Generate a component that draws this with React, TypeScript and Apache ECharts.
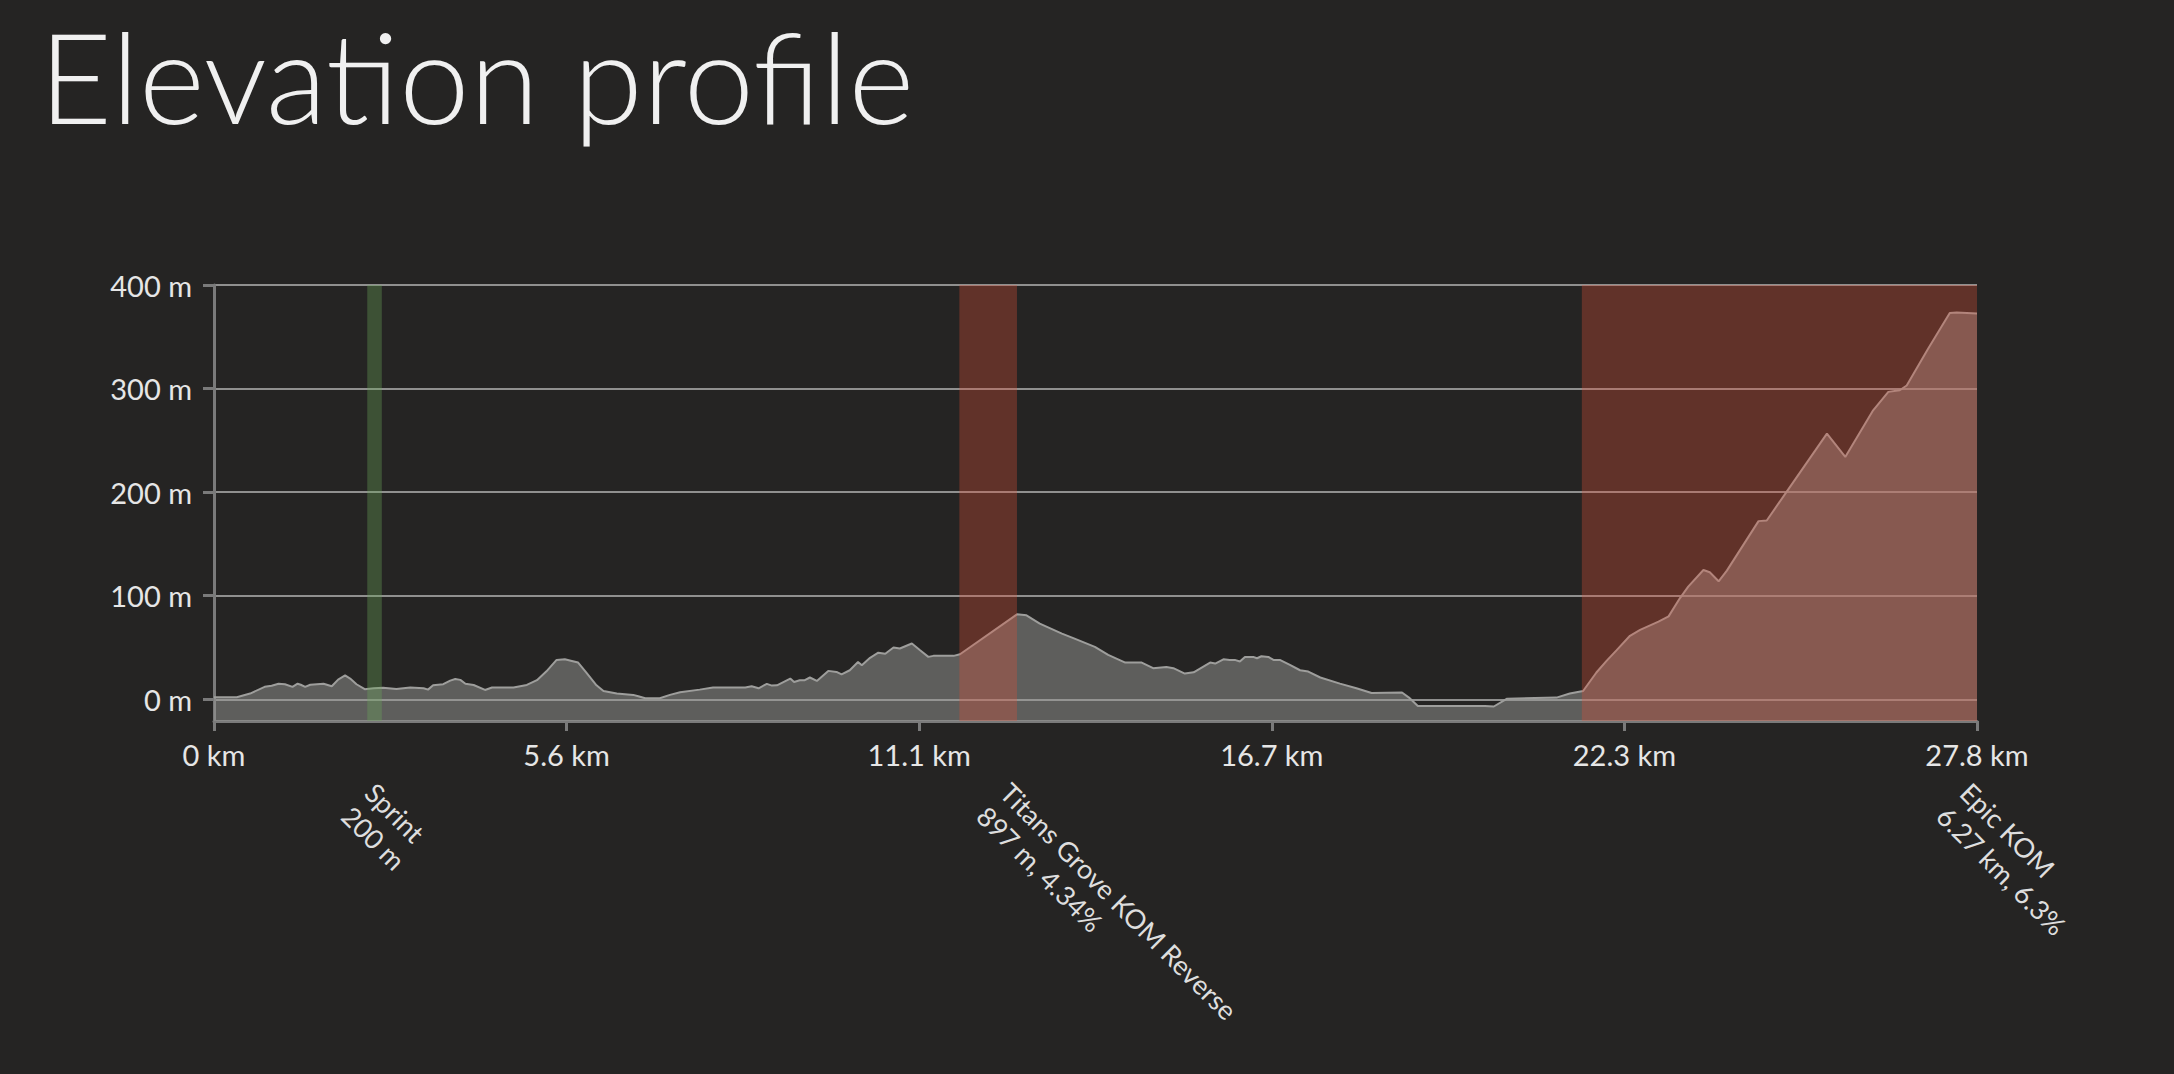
import React, { useEffect, useRef } from "react";
import * as echarts from "echarts";

// ---- data ----
const distanceKm = [
  0.0, 0.36, 0.57, 0.8, 0.91, 1.02, 1.12, 1.24, 1.32, 1.37, 1.44, 1.52, 1.73, 1.86, 1.96, 2.07, 2.15, 2.25,
  2.38, 2.52, 2.67, 2.88, 3.1, 3.31, 3.38, 3.46, 3.62, 3.73, 3.81, 3.89, 3.97, 4.1, 4.28, 4.39, 4.73, 4.94,
  5.1, 5.25, 5.41, 5.54, 5.65, 5.75, 5.88, 6.04, 6.15, 6.36, 6.62, 6.7, 6.81, 7.04, 7.2, 7.36, 7.67, 7.88,
  8.39, 8.49, 8.6, 8.73, 8.81, 8.89, 9.1, 9.16, 9.25, 9.33, 9.41, 9.52, 9.7, 9.83, 9.91, 10.04, 10.17, 10.23,
  10.36, 10.49, 10.6, 10.73, 10.83, 11.02, 11.15, 11.28, 11.36, 11.68, 11.78, 12.68, 12.83, 13.04, 13.39,
  13.57, 13.91, 14.12, 14.39, 14.65, 14.83, 15.04, 15.15, 15.33, 15.47, 15.73, 15.81, 15.94, 16.04, 16.12,
  16.2, 16.28, 16.41, 16.47, 16.54, 16.65, 16.73, 16.83, 16.99, 17.15, 17.28, 17.47, 17.78, 18.04, 18.28,
  18.76, 18.87, 19.01, 20.07, 20.21, 20.42, 21.2, 21.41, 21.62, 21.83, 21.99, 22.15, 22.36, 22.52, 22.81,
  22.97, 23.15, 23.28, 23.52, 23.62, 23.76, 23.89, 24.39, 24.52, 24.83, 25.47, 25.76, 26.2, 26.44, 26.62,
  26.73, 27.07, 27.41, 27.52, 27.84,
];
const elevationM = [
  2, 2, 5.5, 12, 13, 15, 14.5, 12, 15, 14, 12, 14, 15, 12.5, 19, 23, 20, 14.5,
  9.7, 10.6, 11, 10, 11.3, 10.6, 9.3, 13.5, 14.5, 18, 19.6, 18.7, 15, 13.8, 9, 11.3, 11.3, 13.8,
  18.4, 27, 38, 38.6, 37, 35.4, 25.8, 13.5, 8, 5.5, 4.2, 2.9, 1, 1, 4.2, 6.8, 9.3, 11.3,
  11.3, 12.6, 10.6, 14.8, 13.2, 13.5, 20, 16.7, 18.4, 18.4, 21, 17.7, 27.4, 26.4, 24, 28, 36, 32.8,
  40, 45, 44, 50, 49, 53.8, 47.3, 40.9, 41.9, 41.9, 43.5, 82, 81, 73, 63.4,
  59, 50.6, 42.8, 35.4, 35.4, 30, 31.2, 30, 24.8, 26, 35.4, 34.5, 38.6, 38, 38,
  36.4, 40.9, 40.9, 39.6, 41.5, 40.9, 38, 38, 33.2, 28, 26.7, 21, 15.1, 10.6, 6.1,
  6.5, 1.6, -6.5, -6.5, -7, 0.6, 1.6, 5.5, 8, 25.8, 37, 47.4, 61.3, 67, 75,
  80, 97.7, 108.7, 124.8, 122.6, 113.9, 124.2, 172, 172.6, 200, 256.5, 234, 279, 296.8, 298.4,
  303, 338.7, 373, 373.5, 372.6,
];

const totalKm = 27.84;
const xTickSteps = 5;
const yMin = -21;
const yMax = 400;
const yTicks = [0, 100, 200, 300, 400];

const segmentNames = ["Sprint", "Titans Grove KOM Reverse", "Epic KOM"];
const segmentDetails = ["200 m", "897 m, 4.34%", "6.27 km, 6.3%"];
const segmentStartKm = [2.42, 11.77, 21.6];
const segmentEndKm = [2.65, 12.68, 27.84];
const segmentKind = [0, 1, 1]; // 0 = sprint, 1 = KOM

const BG = "#252423";
const FONT = "Lato, 'Open Sans', sans-serif";
const AXIS = "#7a7a7a";

export default function App() {
  const ref = useRef<HTMLDivElement>(null);

  useEffect(() => {
    document.body.style.margin = "0";
    document.body.style.background = BG;
    if (!ref.current) return;
    const chart = echarts.init(ref.current, undefined, { renderer: "svg" });

    const profile = distanceKm.map((d, i) => [d, elevationM[i]]);
    const segData = segmentNames.map((_, i) => [segmentStartKm[i], segmentEndKm[i], i]);

    const option: any = {
      animation: false,
      backgroundColor: BG,
      title: {
        text: "Elevation profile",
        left: 34,
        top: 7,
        textStyle: {
          color: "#f0f0f0",
          fontSize: 126,
          fontWeight: 300,
          fontFamily: FONT,
          lineHeight: 126,
        },
      },
      grid: { left: 214, right: 197, top: 285, bottom: 353 },
      xAxis: {
        type: "value",
        min: 0,
        max: totalKm,
        interval: totalKm / xTickSteps,
        axisLine: { onZero: false, lineStyle: { color: AXIS, width: 3 } },
        axisTick: { show: true, length: 10, lineStyle: { color: AXIS, width: 3 } },
        splitLine: { show: false },
        axisLabel: {
          color: "#e6e6e6",
          fontSize: 29,
          fontFamily: FONT,
          margin: 19,
          showMaxLabel: true,
          showMinLabel: true,
          formatter: (v: number) => (Math.abs(v) < 1e-9 ? "0" : v.toFixed(1)) + " km",
        },
      },
      yAxis: {
        type: "value",
        min: yMin,
        max: yMax,
        axisLine: { show: true, onZero: false, lineStyle: { color: AXIS, width: 3 } },
        axisTick: {
          show: true,
          length: 11,
          customValues: yTicks,
          lineStyle: { color: AXIS, width: 3 },
        },
        axisLabel: {
          customValues: yTicks,
          color: "#e6e6e6",
          fontSize: 29,
          fontFamily: FONT,
          margin: 22,
          formatter: (v: number) => (v % 100 === 0 ? `${v} m` : ""),
        },
        splitLine: { show: true, lineStyle: { color: "#b4b4b4", width: 1.5 } },
      },
      series: [
        {
          type: "line",
          data: profile,
          symbol: "none",
          showSymbol: false,
          smooth: false,
          z: 2,
          lineStyle: { color: "#9e9e9c", width: 2 },
          areaStyle: { color: "rgba(152,152,150,0.5)", opacity: 1, origin: "start" },
        },
        {
          type: "custom",
          z: 5,
          clip: false,
          data: segData,
          encode: { x: [0, 1] },
          renderItem: (params: any, api: any) => {
            const s = api.value(0);
            const e = api.value(1);
            const idx = api.value(2);
            const p0 = api.coord([s, yMax]);
            const p1 = api.coord([e, yMin]);
            const fill =
              segmentKind[idx] === 0 ? "rgba(105,167,89,0.35)" : "rgba(224,80,57,0.32)";
            return {
              type: "group",
              children: [
                {
                  type: "rect",
                  shape: { x: p0[0], y: p0[1], width: p1[0] - p0[0], height: p1[1] - p0[1] },
                  style: { fill },
                },
                {
                  type: "text",
                  x: p1[0],
                  y: p1[1] + 55,
                  rotation: -Math.PI / 4,
                  style: {
                    text: segmentNames[idx] + "\n" + segmentDetails[idx],
                    fill: "#dedede",
                    fontSize: 27,
                    fontFamily: FONT,
                    lineHeight: 33,
                    align: "left",
                    verticalAlign: "top",
                  },
                },
              ],
            };
          },
        },
      ],
    };

    chart.setOption(option);
    return () => chart.dispose();
  }, []);

  return (
    <div
      ref={ref}
      style={{ position: "fixed", left: 0, top: 0, width: "2174px", height: "1074px", background: BG }}
    />
  );
}
